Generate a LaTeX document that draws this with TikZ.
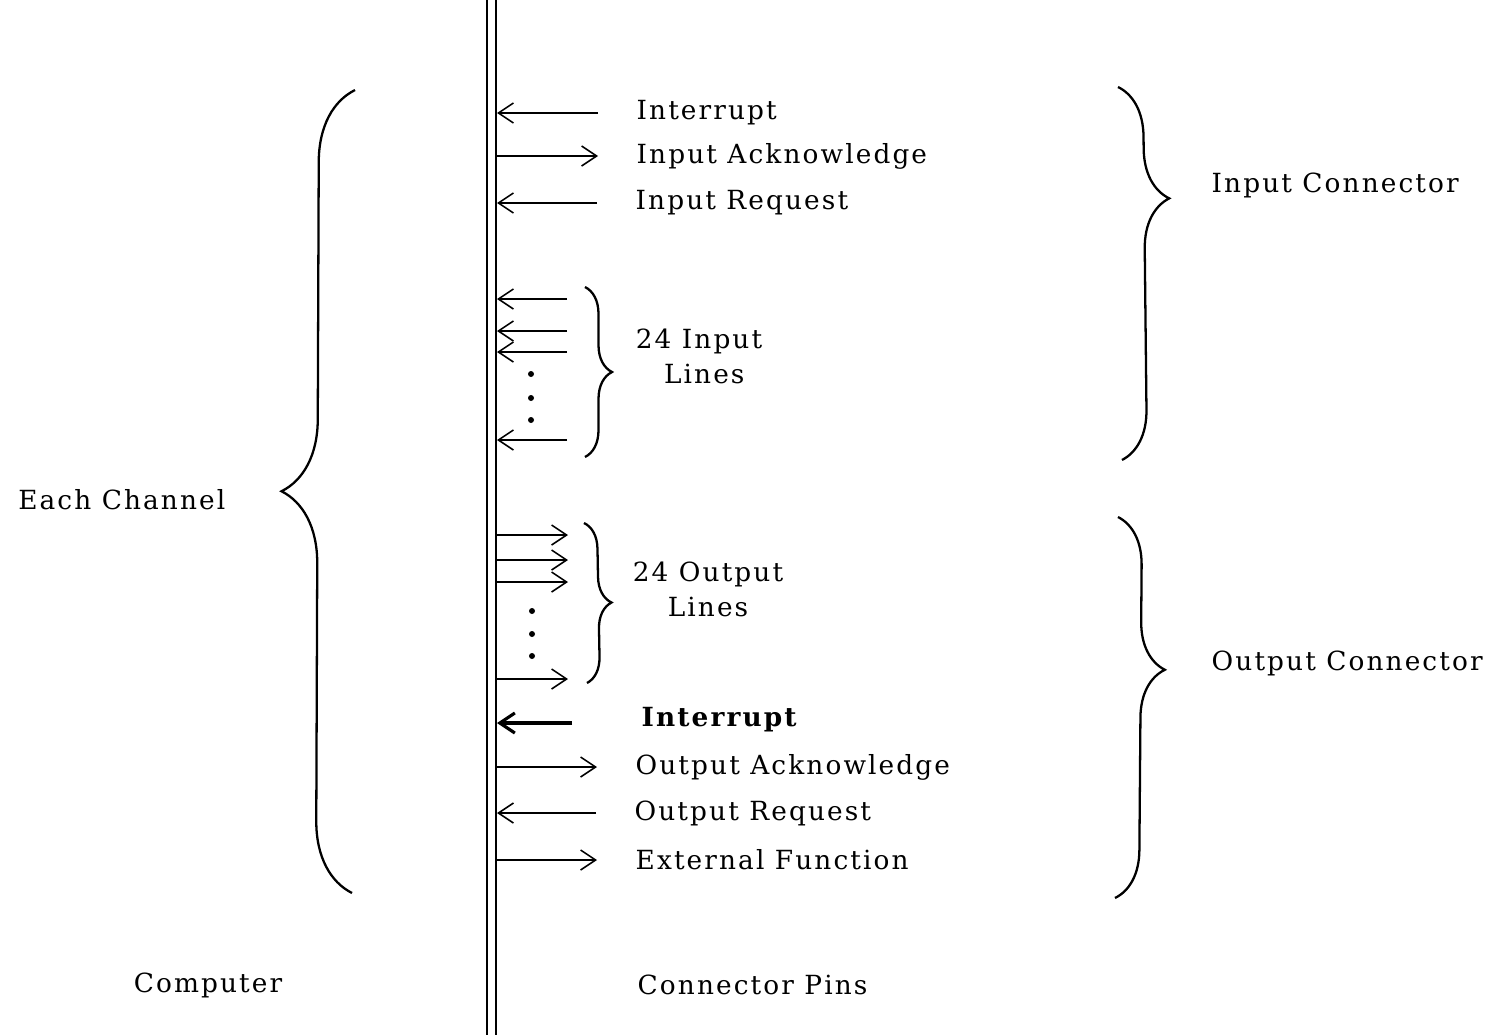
\documentclass[tikz,border=0pt]{standalone}
\usepackage{fontspec}
\setmainfont{DejaVu Serif}[LetterSpace=8]
\usetikzlibrary{
  arrows.meta,
  positioning,
  decorations.pathreplacing
}
\tikzset{
  lbl/.style={font=\fontsize{7.5}{10}\selectfont, inner sep=0pt, anchor=west},
  lblbold/.style={lbl, font=\fontsize{7.5}{10}\selectfont\bfseries},
  busline/.style={line width=0.6pt, black},
  sig/.style={-{Straight Barb[length=1.5mm, width=2mm]}, line width=0.45pt},
  sigbold/.style={sig, line width=0.9pt},
  bigbrace/.style={decorate, line width=0.65pt,
    decoration={brace, amplitude=#1}},
  bigbrace/.default=5mm,
  dot/.style={circle, fill, inner sep=0pt, minimum size=0.6mm}
}
\begin{document}
\begin{tikzpicture}[node distance=3.8mm]
  \useasboundingbox (0,0) rectangle (14.87,10.35);
  % the pin bus
  \coordinate (busA) at (4.87,10.35);
  \coordinate (busB) at (4.96,10.35);
  \draw[busline] (busA) -- (4.87,0);
  \draw[busline] (busB) -- (4.96,0);
  \coordinate (bus) at (4.97,0);

  % input connector signals
  \coordinate (pIntIn) at (5.98,9.22);
  \coordinate (pInAck) at (5.98,8.79);
  \coordinate (pInReq) at (5.97,8.32);
  \draw[sig] (pIntIn) -- (pIntIn -| bus);
  \draw[sig] (pInAck -| bus) -- (pInAck);
  \draw[sig] (pInReq) -- (pInReq -| bus);
  \node[lbl, right=of pIntIn] (intIn) {Interrupt};
  \node[lbl, right=of pInAck] (inAck) {Input Acknowledge};
  \node[lbl, right=of pInReq] (inReq) {Input Request};

  % 24 input lines
  \foreach \y [count=\i] in {7.36,7.04,6.83,5.95}
    \draw[sig] (5.67,\y) coordinate (pIn\i) -- (pIn\i -| bus);
  \foreach \y in {6.61,6.37,6.15}
    \node[dot] at (5.31,\y) {};
  \coordinate (inTop) at (5.85,7.48);
  \coordinate (inBot) at (5.85,5.78);
  \draw[bigbrace=2.7mm] (inTop) -- (inBot);
  \node[font=\fontsize{7.5}{10}\selectfont, align=center, inner sep=0pt]
    (inLines) at (6.99,6.79) {24 Input\\\ Lines};

  % 24 output lines
  \foreach \y [count=\i] in {5.00,4.75,4.53,3.56}
    \draw[sig] (bus |- 0,\y) -- (5.68,\y) coordinate (pOut\i);
  \foreach \y in {4.24,4.01,3.79}
    \node[dot] at (5.32,\y) {};
  \coordinate (outTop) at (5.84,5.12);
  \coordinate (outBot) at (5.87,3.52);
  \draw[bigbrace=2.6mm] (outTop) -- (outBot);
  \node[font=\fontsize{7.5}{10}\selectfont, align=center, inner sep=0pt]
    (outLines) at (7.08,4.46) {24 Output\\Lines};

  % output connector signals
  \coordinate (pIntOut) at (5.72,3.12);
  \coordinate (pOutAck) at (5.97,2.68);
  \coordinate (pOutReq) at (5.96,2.22);
  \coordinate (pExtFn) at (5.97,1.75);
  \draw[sigbold] (pIntOut) -- (pIntOut -| bus);
  \draw[sig] (pOutAck -| bus) -- (pOutAck);
  \draw[sig] (pOutReq) -- (pOutReq -| bus);
  \draw[sig] (pExtFn -| bus) -- (pExtFn);
  \node[lblbold] (intOut) at (6.41,3.15) {Interrupt};
  \node[lbl, right=of pOutAck] (outAck) {Output Acknowledge};
  \node[lbl, right=of pOutReq] (outReq) {Output Request};
  \node[lbl, right=of pExtFn] (extFn) {External Function};

  % connector braces
  \coordinate (icTop) at (11.18,9.48);
  \coordinate (icBot) at (11.22,5.75);
  \draw[decorate, line width=0.65pt,
    decoration={brace, amplitude=5mm, aspect=0.3}] (icTop) -- (icBot);
  \node[lbl] (inConn) at (12.11,8.50) {Input Connector};
  \coordinate (ocTop) at (11.18,5.18);
  \coordinate (ocBot) at (11.15,1.37);
  \draw[decorate, line width=0.65pt,
    decoration={brace, amplitude=4.8mm, aspect=0.4}] (ocTop) -- (ocBot);
  \node[lbl] (outConn) at (12.11,3.72) {Output Connector};

  % channel brace
  \coordinate (chBot) at (3.52,1.42);
  \coordinate (chTop) at (3.55,9.45);
  \draw[bigbrace=7.2mm] (chBot) -- (chTop);
  \node[lbl, anchor=east] (chan) at (2.26,5.35) {Each Channel};

  % bottom captions
  \node[font=\fontsize{7.5}{10}\selectfont, inner sep=0pt] (comp) at (2.08,0.50) {Computer};
  \node[lbl] (pins) at (6.37,0.50) {Connector Pins};
\end{tikzpicture}
\end{document}
